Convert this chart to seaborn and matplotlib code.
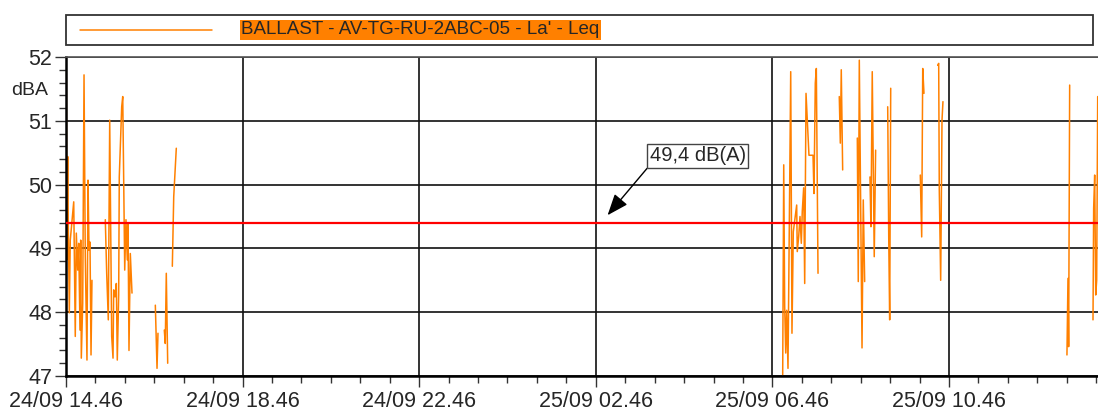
import matplotlib
matplotlib.use("Agg")
import matplotlib.pyplot as plt
import matplotlib.dates as mdates
from matplotlib.lines import Line2D
from matplotlib.patches import Rectangle
import seaborn as sns
import pandas as pd
import numpy as np

# start of the measurement window
start_time = "2021-09-24 14:46"
series_label = "BALLAST - AV-TG-RU-2ABC-05 - La' - Leq"
reference_level = 49.4
reference_text = "49,4 dB(A)"
y_label = "dBA"

# minutes after start, NaN = gap in the record
minutes = [0.4, 1.0, 2.3, 3.1, 4.5, 5.8, 10.5, 12.6, 14.0, 15.9, 17.3, 19.0, 20.0, 20.8,
           22.7, 24.5, 26.2, 28.5, 29.9, 31.3, 32.6, 34.0, 35.3, np.nan,
           53.4, 55.3, 57.5, 59.4, 62.1, 63.9, 64.8, 66.6, 68.4, 69.7, 71.6, 72.4, 75.7,
           77.1, 79.8, 81.5, 83.3, 84.3, 85.6, 87.4, 89.7, np.nan,
           121.4, 123.7, 125.0, np.nan,
           133.6, 134.9, 136.3, 138.2, np.nan,
           144.5, 146.4, 149.9, np.nan,
           974.0, 975.4, 976.7, 978.1, 979.4, 981.2, 984.9, 986.6, 988.4, 993.0, 993.8,
           995.7, 997.5, 999.3, 1000.6, 1002.5, 1003.9, 1005.7, 1009.7, 1015.2, 1016.5,
           1018.3, 1019.7, 1022.0, np.nan,
           1050.9, 1052.3, 1053.6, 1055.5, np.nan,
           1075.4, 1076.7, 1078.1, 1081.8, 1083.5, 1085.4, np.nan,
           1092.6, 1093.9, 1095.7, 1098.4, 1100.3, np.nan,
           1116.7, 1118.1, 1119.4, 1120.8, np.nan,
           1161.0, 1162.9, 1164.3, 1166.0, np.nan,
           1184.6, 1186.0, 1186.8, 1188.7, 1190.5, 1191.8, np.nan,
           1360.3, 1361.7, 1362.6, 1364.0, np.nan,
           1395.7, 1396.6, 1398.0, 1399.4, 1400.7, 1402.1]

leq = [51.69, 48.82, 50.44, 49.40, 47.99, 49.13, 49.73, 47.62, 49.24, 48.66, 49.08, 47.72, 49.13, 47.28,
       48.14, 51.72, 48.87, 47.25, 50.07, 48.97, 49.10, 47.33, 48.50, np.nan,
       49.45, 48.61, 47.88, 51.01, 47.62, 47.28, 48.35, 48.24, 48.45, 47.25, 48.27, 50.12, 51.22,
       51.38, 48.66, 49.45, 48.82, 49.40, 47.40, 48.92, 48.30, np.nan,
       48.11, 47.12, 47.67, np.nan,
       47.72, 47.51, 48.61, 47.20, np.nan,
       48.72, 49.81, 50.57, np.nan,
       47.02, 50.31, 48.09, 47.36, 48.03, 47.12, 51.77, 47.67, 49.26, 49.68, 48.95,
       49.18, 49.50, 49.08, 49.58, 49.95, 48.45, 51.43, 50.46, 50.46, 49.86,
       51.59, 51.82, 48.61, np.nan,
       51.38, 50.65, 51.80, 50.23, np.nan,
       50.73, 48.48, 51.95, 47.44, 49.76, 48.48, np.nan,
       50.12, 49.34, 51.77, 48.87, 50.54, np.nan,
       51.22, 49.18, 47.88, 51.51, np.nan,
       50.15, 49.18, 51.82, 51.43, np.nan,
       51.87, 51.90, 49.92, 48.50, 51.01, 51.30, np.nan,
       47.33, 48.53, 47.46, 51.56, np.nan,
       47.88, 49.63, 50.15, 48.27, 48.50, 51.38]

t0 = pd.Timestamp(start_time)
df = pd.DataFrame({"minutes": minutes, "leq": leq})
df["run"] = df["leq"].isna().cumsum()
df = df.dropna()
df["time"] = t0 + pd.to_timedelta(df["minutes"], unit="m")

orange = "#ff8000"
W, H = 1098, 412

sns.set_style("white")
plt.rcParams["font.family"] = ["Liberation Sans", "DejaVu Sans"]

fig = plt.figure(figsize=(W / 100, H / 100), dpi=100)
ax = fig.add_axes([66 / W, 1 - 376 / H, 1032 / W, 319 / H])

sns.lineplot(data=df, x="time", y="leq", units="run", estimator=None,
             color=orange, linewidth=1.1, ax=ax, legend=False)
ax.axhline(reference_level, color="red", linewidth=1.6, zorder=3)

# axes
ax.set_xlim(t0, t0 + pd.Timedelta(minutes=1402.5))
ax.set_ylim(47, 52)
major_times = pd.date_range(t0, periods=6, freq="4h")
minor_times = pd.date_range(t0, periods=36, freq="40min")
ax.set_xticks(major_times)
ax.set_xticks(minor_times, minor=True)
ax.xaxis.set_major_formatter(mdates.DateFormatter("%d/%m %H.%M"))
ax.set_yticks(np.arange(47, 53, 1))
ax.set_yticks(np.arange(47, 52.01, 0.2), minor=True)
ax.set_xlabel("")
ax.set_ylabel("")
ax.grid(True, which="major", color="#111111", linewidth=1.2)
ax.tick_params(axis="both", which="major", length=8, width=1, color="#333333",
               labelsize=15.5, pad=3)
ax.tick_params(axis="both", which="minor", length=5, width=1, color="#333333")
ax.tick_params(axis="x", bottom=True, which="both")
ax.tick_params(axis="y", left=True, which="both", pad=2)
for side in ["left", "bottom"]:
    ax.spines[side].set_color("black")
    ax.spines[side].set_linewidth(1.8)
ax.spines["top"].set_color("#555555")
ax.spines["top"].set_linewidth(1.2)
ax.spines["right"].set_visible(False)

ax.text(-0.035, 0.895, y_label, transform=ax.transAxes, ha="center", va="center",
        fontsize=14)

# annotation of the reference level
ax.annotate(reference_text,
            xy=(t0 + pd.Timedelta(minutes=736), 49.52),
            xytext=(t0 + pd.Timedelta(minutes=793), 50.30),
            fontsize=14.5, ha="left", va="bottom",
            bbox=dict(boxstyle="square,pad=0.12", fc="white", ec="#444444", lw=1),
            arrowprops=dict(arrowstyle="-|>,head_length=0.9,head_width=0.35",
                            color="black", lw=1, shrinkA=0, shrinkB=0,
                            relpos=(0, 0)))

# legend box above the plot
fig.patches.append(Rectangle((66 / W, 1 - 45 / H), 1027 / W, 30 / H,
                             transform=fig.transFigure, facecolor="white",
                             edgecolor="#333333", linewidth=1.3))
fig.lines.append(Line2D([80 / W, 212 / W], [1 - 30 / H, 1 - 30 / H],
                        transform=fig.transFigure, color=orange, linewidth=1.1))
fig.text(241 / W, 1 - 30 / H, series_label, fontsize=13.5, ha="left", va="center",
         bbox=dict(facecolor=orange, edgecolor="none", pad=1))

fig.savefig("out.png", dpi=100)
